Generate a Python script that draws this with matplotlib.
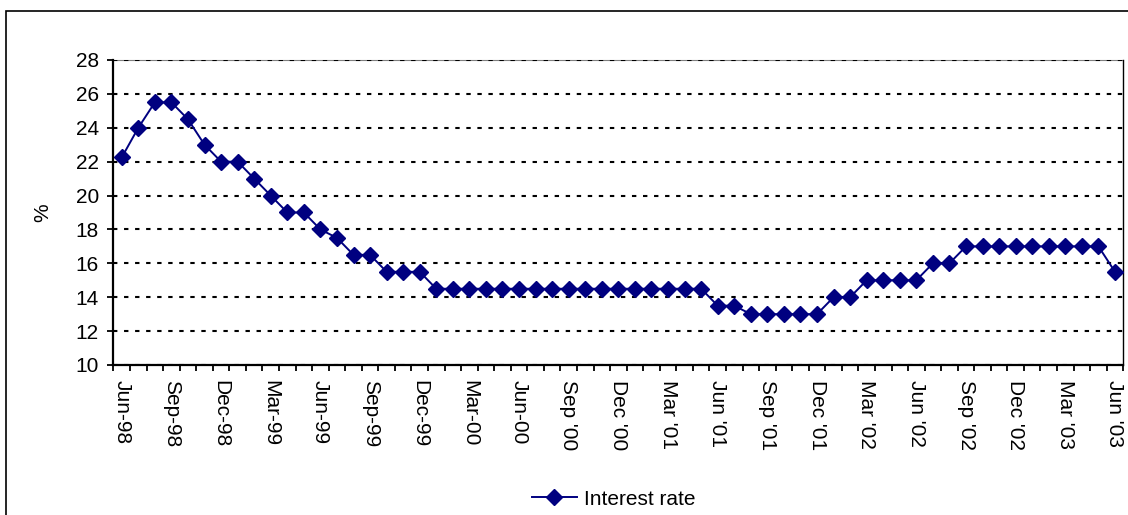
import matplotlib.pyplot as plt
import matplotlib.patches as patches
import numpy as np

plt.rcParams["font.family"] = ["Liberation Sans", "DejaVu Sans"]
plt.rcParams["font.size"] = 15

# monthly interest rate, Jun-98 .. Jun-03
rates = [22.25, 24, 25.5, 25.5, 24.5, 23, 22, 22, 21, 20, 19, 19, 18, 17.5,
         16.5, 16.5, 15.5, 15.5, 15.5,
         14.5, 14.5, 14.5, 14.5, 14.5, 14.5, 14.5, 14.5, 14.5, 14.5, 14.5,
         14.5, 14.5, 14.5, 14.5, 14.5, 14.5,
         13.5, 13.5, 13, 13, 13, 13, 13, 14, 14, 15, 15, 15, 15, 16, 16,
         17, 17, 17, 17, 17, 17, 17, 17, 17, 15.5]
tick_labels = ["Jun-98", "Sep-98", "Dec-98", "Mar-99", "Jun-99", "Sep-99",
               "Dec-99", "Mar-00", "Jun-00", "Sep '00", "Dec '00", "Mar '01",
               "Jun '01", "Sep '01", "Dec '01", "Mar '02", "Jun '02",
               "Sep '02", "Dec '02", "Mar '03", "Jun '03"]
y_ticks = [10, 12, 14, 16, 18, 20, 22, 24, 26, 28]

fig = plt.figure(figsize=(11.28, 5.15), dpi=100)
ax = fig.add_axes([0.1006, 0.2913, 0.8952, 0.5922])

x = np.arange(len(rates))
line, = ax.plot(x, rates, color="#000080", lw=1.4, marker="D", markersize=8.5,
                label="Interest rate", zorder=3)

ax.set_xlim(-0.5, len(rates) - 0.5)
ax.set_ylim(10, 28)
ax.set_yticks(y_ticks)
ax.yaxis.grid(True, color="black", lw=1.5, linestyle=(0, (2.1, 3.2)))
ax.set_axisbelow(True)

ax.set_xticks(x[::3])
ax.set_xticklabels(tick_labels, rotation=270, ha="center", va="top")
ax.set_xticks(np.arange(-0.5, len(rates), 1), minor=True)
ax.tick_params(axis="x", which="major", length=0, pad=11)
ax.tick_params(axis="x", which="minor", length=4.5, width=1.3, direction="out")
ax.tick_params(axis="y", length=4.5, width=1.3, pad=6)
ax.set_ylabel("%")
ax.yaxis.set_label_coords(-0.061, 0.5)

for side in ["left", "bottom"]:
    ax.spines[side].set_linewidth(1.6)
ax.spines["top"].set_color("#808080")
ax.spines["top"].set_linewidth(0.8)
ax.spines["top"].set_zorder(0.4)
ax.spines["right"].set_linewidth(1.0)

fig.legend(handles=[line], loc="center", bbox_to_anchor=(0.544, 0.031),
           frameon=False, handlelength=2.16, handletextpad=0.33)

fig.patches.append(patches.Rectangle((6 / 1128, -0.1), 1.1, 1.1 - 11 / 515,
                                     transform=fig.transFigure, fill=False,
                                     edgecolor="black", lw=1.2))

plt.savefig("out.png", dpi=100)
